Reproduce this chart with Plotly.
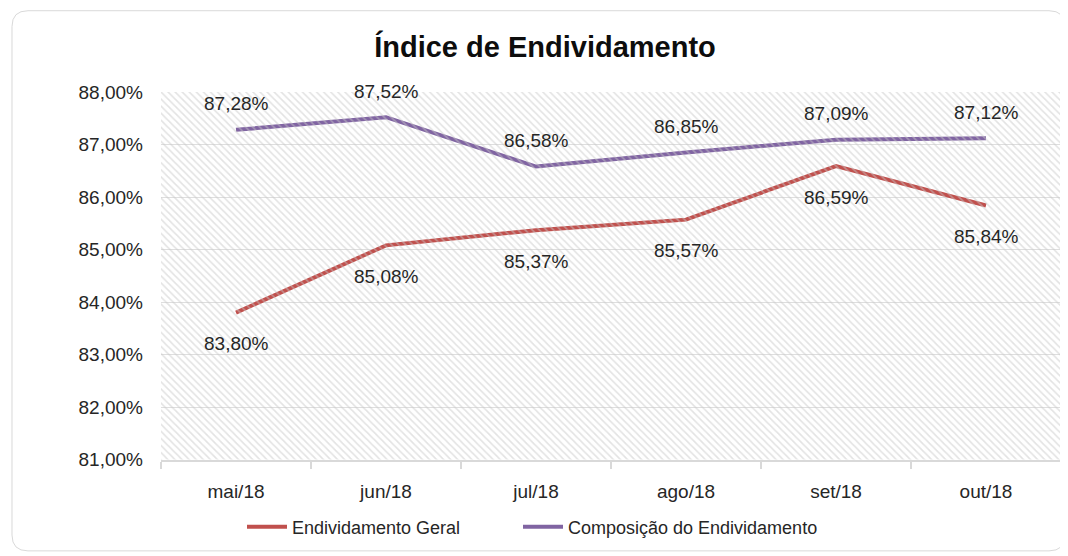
import plotly.graph_objects as go

categories = ["mai/18", "jun/18", "jul/18", "ago/18", "set/18", "out/18"]
geral = [83.80, 85.08, 85.37, 85.57, 86.59, 85.84]
composicao = [87.28, 87.52, 86.58, 86.85, 87.09, 87.12]
y_ticks = [81, 82, 83, 84, 85, 86, 87, 88]
y_ticktext = ["81,00%", "82,00%", "83,00%", "84,00%", "85,00%", "86,00%", "87,00%", "88,00%"]

# page has an 8px body margin, so figure coordinates are page coordinates minus 8
OFF = 8
W, H = 1060, 548
L, R, T, B = 161 - OFF, 1061 - OFF, 92 - OFF, 463 - OFF
FONT = "Liberation Sans, Arial, sans-serif"
RED = "#C0504D"
PURPLE = "#8064A2"
TXT = "#262626"

def fmt(v):
    return f"{v:.2f}".replace(".", ",") + "%"

fig = go.Figure()

# hatched plot background on an invisible overlay axis
fig.add_trace(go.Scatter(
    x=[0, 1, 1, 0, 0], y=[y_ticks[0], y_ticks[0], y_ticks[-1], y_ticks[-1], y_ticks[0]],
    xaxis="x2", mode="lines", line=dict(width=0), fill="toself",
    fillcolor="rgba(0,0,0,0)",
    fillpattern=dict(shape="\\", fgcolor="#c8c8c8", bgcolor="rgba(0,0,0,0)", size=5, solidity=0.33),
    hoverinfo="skip", showlegend=False))

fig.add_trace(go.Scatter(x=categories, y=geral, mode="lines", name="Endividamento Geral",
                         line=dict(color=RED, width=4), legend="legend"))
fig.add_trace(go.Scatter(x=categories, y=composicao, mode="lines", name="Composição do Endividamento",
                         line=dict(color=PURPLE, width=4), legend="legend2"))

annotations = []
for c, v in zip(categories, geral):
    annotations.append(dict(x=c, y=v, text=fmt(v), showarrow=False, yshift=-31,
                            font=dict(family=FONT, size=19, color=TXT)))
for c, v in zip(categories, composicao):
    annotations.append(dict(x=c, y=v, text=fmt(v), showarrow=False, yshift=26,
                            font=dict(family=FONT, size=19, color=TXT)))

def px2paper(px, py):
    return (px - L) / (R - L), (B - py) / (B - T)

def rounded_rect(x0, y0, x1, y1, r):
    def P(px, py):
        a, b = px2paper(px, py)
        return f"{a:.5f},{b:.5f}"
    return (f"M {P(x0 + r, y0)} L {P(x1 - r, y0)} Q {P(x1, y0)} {P(x1, y0 + r)} "
            f"L {P(x1, y1 - r)} Q {P(x1, y1)} {P(x1 - r, y1)} L {P(x0 + r, y1)} "
            f"Q {P(x0, y1)} {P(x0, y1 - r)} L {P(x0, y0 + r)} Q {P(x0, y0)} {P(x0 + r, y0)} Z")

legend_common = dict(orientation="h", xref="container", yref="container", xanchor="left",
                     y=1 - (527 - OFF) / H, yanchor="middle",
                     font=dict(family=FONT, size=18, color=TXT), itemwidth=40,
                     bgcolor="rgba(0,0,0,0)")

fig.update_layout(
    width=W, height=H,
    margin=dict(l=L, r=W - R, t=T, b=H - B),
    paper_bgcolor="white", plot_bgcolor="white",
    font=dict(family=FONT, size=18, color=TXT),
    title=dict(text="<b>Índice de Endividamento</b>", x=(545 - OFF) / W, xref="container", xanchor="center",
               y=1 - (47 - OFF) / H, yref="container", yanchor="middle",
               font=dict(family=FONT, size=29, color="#0d0d0d")),
    xaxis=dict(type="category", range=[-0.5, 5.5], tickson="boundaries", ticks="outside",
               ticklen=7, tickcolor="#d9d9d9", tickwidth=2, showline=True, linecolor="#d9d9d9",
               linewidth=2, showgrid=False, ticklabelstandoff=13,
               tickfont=dict(family=FONT, size=19, color=TXT)),
    xaxis2=dict(overlaying="x", range=[0, 1], visible=False),
    yaxis=dict(range=[y_ticks[0], y_ticks[-1]], tickvals=y_ticks, ticktext=y_ticktext,
               showgrid=True, gridcolor="#dedede", gridwidth=1, zeroline=False,
               showline=False, ticks="", ticklabelstandoff=17,
               tickfont=dict(family=FONT, size=19, color=TXT)),
    legend=dict(legend_common, x=(242 - OFF) / W),
    legend2=dict(legend_common, x=(518 - OFF) / W),
    annotations=annotations,
    shapes=[dict(type="path", xref="paper", yref="paper",
                 path=rounded_rect(12 - OFF, 10 - OFF, 1065 - OFF, 555 - OFF, 16),
                 line=dict(color="#d9d9d9", width=1), layer="below")],
)

fig.write_html("out.html")
